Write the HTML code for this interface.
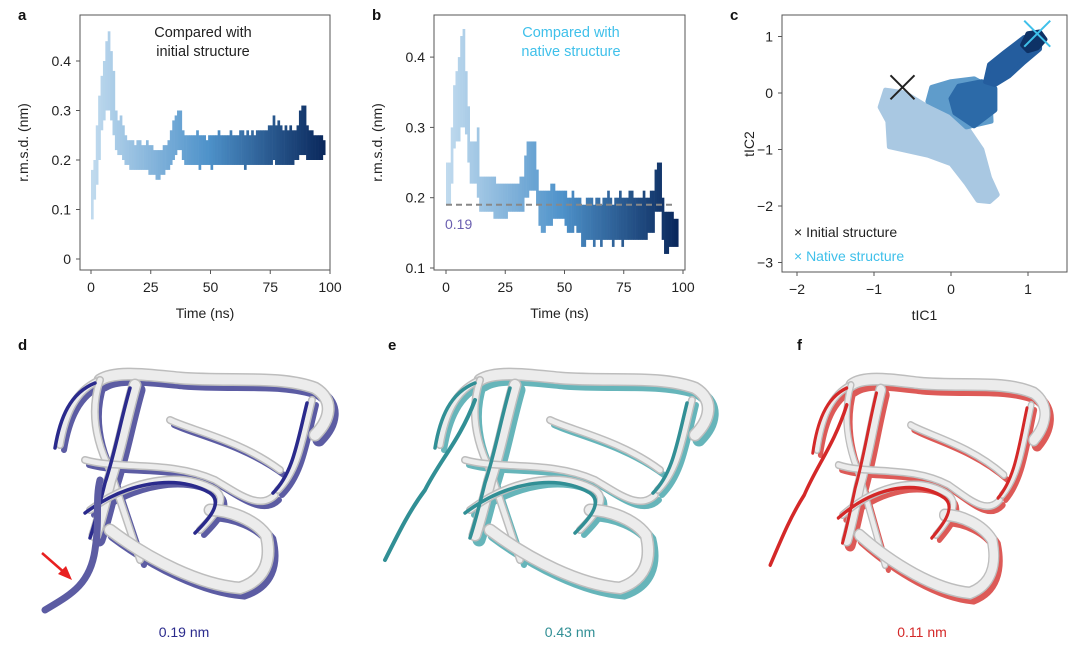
<!DOCTYPE html>
<html><head><meta charset="utf-8"><style>
body{margin:0;background:#fff;}
svg{display:block;font-family:"Liberation Sans",sans-serif;}
</style></head><body>
<svg id="fig" width="1080" height="653" viewBox="0 0 1080 653">
<rect width="1080" height="653" fill="#fff"/>
<g id="pa"></g>
<g id="pb"></g>
<g id="pc"></g>
<g id="prot"></g>
</svg>
<script>
// ---- Panel a data: per-ns r.m.s.d. band vs initial structure ----
const timeNs = Array.from({length:98},(_, i)=>i);
const aLo = [.08,.12,.15,.20,.26,.28,.30,.30,.28,.25,.22,.21,.21,.20,.19,.19,.18,.18,.18,.18,.18,.18,.18,.18,.17,.17,.17,.16,.16,.17,.17,.18,.18,.19,.20,.21,.22,.22,.20,.19,
.19,.19,.19,.19,.19,.18,.19,.19,.19,.19,.18,.19,.19,.19,.19,.19,.19,.19,.19,.19,.19,.19,.19,.19,.18,.19,.19,.19,.19,.19,.19,.19,.19,.19,.19,.19,.20,.19,.19,.19,.19,.19,.19,.19,.19,.20,.20,.21,.21,.21,.20,.20,.20,.20,.20,.20,.20,.21];
const aHi = [.18,.20,.27,.33,.37,.40,.44,.46,.42,.38,.30,.28,.29,.27,.25,.24,.24,.24,.23,.24,.24,.23,.23,.24,.23,.23,.22,.22,.22,.22,.23,.23,.24,.26,.28,.29,.30,.30,.26,.25,
.25,.25,.25,.25,.26,.25,.25,.25,.24,.25,.25,.25,.25,.26,.25,.25,.25,.25,.26,.25,.25,.25,.26,.26,.25,.26,.25,.26,.25,.26,.26,.26,.26,.26,.27,.27,.29,.27,.28,.27,.26,.27,.26,.27,.26,.26,.27,.30,.31,.31,.27,.26,.26,.25,.25,.25,.25,.24];
const aYTicks = [0,0.1,0.2,0.3,0.4];
const aYLabels = ["0","0.1","0.2","0.3","0.4"];
const xTicks = [0,25,50,75,100];
// ---- Panel b data: vs native ----
const bLo = [.19,.19,.22,.27,.28,.28,.30,.30,.29,.25,.22,.22,.22,.20,.18,.18,.18,.18,.18,.18,.17,.17,.17,.17,.17,.17,.18,.18,.18,.18,.18,.18,.18,.20,.20,.21,.21,.21,.19,.16,
.15,.15,.16,.16,.16,.17,.17,.17,.17,.17,.16,.15,.15,.15,.16,.15,.15,.13,.13,.14,.14,.14,.13,.14,.14,.13,.14,.14,.14,.14,.13,.14,.14,.14,.13,.14,.14,.14,.14,.14,.14,.14,.14,.14,.14,.15,.15,.15,.18,.18,.18,.14,.12,.12,.13,.13,.13,.13];
const bHi = [.25,.25,.30,.36,.38,.40,.43,.44,.38,.33,.28,.28,.28,.30,.23,.23,.23,.23,.23,.23,.23,.22,.22,.22,.22,.22,.22,.22,.22,.22,.22,.23,.23,.26,.28,.28,.28,.28,.24,.21,
.21,.21,.21,.21,.22,.22,.21,.21,.21,.21,.21,.20,.20,.21,.20,.20,.20,.19,.19,.20,.20,.20,.19,.20,.20,.19,.20,.20,.21,.20,.19,.20,.20,.21,.20,.20,.20,.21,.21,.20,.20,.20,.20,.21,.20,.20,.21,.21,.24,.25,.25,.20,.18,.18,.18,.18,.17,.17];
const bYTicks = [0.1,0.2,0.3,0.4];
const bYLabels = ["0.1","0.2","0.3","0.4"];
const bRef = 0.19;
// ---- Panel c data: tIC clusters (polygons in tIC units) ----
const cLight = [[-0.85,0.05],[-0.6,0.0],[-0.3,-0.25],[0.0,-0.4],[0.2,-0.6],[0.4,-1.0],[0.5,-1.5],[0.6,-1.8],[0.5,-1.92],[0.35,-1.9],[0.2,-1.6],[0.0,-1.25],[-0.3,-1.1],[-0.8,-0.95],[-0.82,-0.5],[-0.92,-0.25]];
const cMid = [[-0.25,0.1],[0.0,0.2],[0.3,0.25],[0.5,0.1],[0.52,-0.5],[0.2,-0.6],[0.0,-0.35],[-0.3,-0.15]];
const cDark = [[0.1,0.12],[0.4,0.2],[0.57,0.08],[0.57,-0.3],[0.3,-0.58],[0.05,-0.35],[0.0,-0.1]];
const cArm = [[0.45,0.2],[0.5,0.5],[0.7,0.72],[0.95,0.98],[1.15,1.02],[1.15,0.78],[0.95,0.55],[0.75,0.3],[0.57,0.15]];
const cDarkest = [[0.93,0.85],[1.0,1.05],[1.15,1.08],[1.22,0.95],[1.12,0.8],[1.0,0.75]];
const cInitial = [-0.63,0.1];
const cNative = [1.12,1.05];
const cXTicks=[-2,-1,0,1], cXLabels=["\u22122","\u22121","0","1"];
const cYTicks=[-3,-2,-1,0,1], cYLabels=["\u22123","\u22122","\u22121","0","1"];

const NS='http://www.w3.org/2000/svg';
function mk(parent,tag,attrs,text){const e=document.createElementNS(NS,tag);for(const k in attrs)e.setAttribute(k,attrs[k]);if(text!==undefined)e.textContent=text;parent.appendChild(e);return e;}
function lerpCol(t){const s=[[192,218,238],[78,146,202],[10,40,92]];let a,b,u;if(t<0.5){a=s[0];b=s[1];u=t/0.5;}else{a=s[1];b=s[2];u=(t-0.5)/0.5;}
  const c=a.map((v,i)=>Math.round(v+(b[i]-v)*u));return `rgb(${c[0]},${c[1]},${c[2]})`;}

function rmsdPanel(g,box,xs,ys,lo,hi,yt,yl,letter,title,titleCol,titleX){
  const X=v=>xs[0]+(v-xs[1])*xs[2], Y=v=>ys[0]-(v-ys[1])*ys[2];
  let e=mk(g,'text',{x:box[0]-62,y:box[1]+5,'font-size':15,'font-weight':'bold',fill:'#111'},letter);
  
  const marks=mk(g,'g',{});
  lo.forEach((l,i)=>{const r=mk(marks,'rect',{x:X(timeNs[i]),y:Y(hi[i]),width:xs[2]+0.3,height:Math.max(1,Y(l)-Y(hi[i])),fill:lerpCol(i/97)});
    });
  e=mk(g,'rect',{x:box[0],y:box[1],width:box[2]-box[0],height:box[3]-box[1],fill:'none',stroke:'#555','stroke-width':1});
  
  yt.forEach((v,i)=>{mk(g,'line',{x1:box[0]-4,x2:box[0],y1:Y(v),y2:Y(v),stroke:'#555'});
    e=mk(g,'text',{x:box[0]-9,y:Y(v)+5,'font-size':14,'text-anchor':'end',fill:'#222'},yl[i]);});
  xTicks.forEach(v=>{mk(g,'line',{x1:X(v),x2:X(v),y1:box[3],y2:box[3]+4,stroke:'#555'});
    e=mk(g,'text',{x:X(v),y:box[3]+22,'font-size':14,'text-anchor':'middle',fill:'#222'},String(v));});
  e=mk(g,'text',{x:(box[0]+box[2])/2,y:box[3]+48,'font-size':14,'text-anchor':'middle',fill:'#222'},'Time (ns)');
  const yc=(box[1]+box[3])/2;
  e=mk(g,'text',{x:0,y:0,'font-size':14,'text-anchor':'middle',fill:'#222',transform:`translate(${box[0]-52},${yc}) rotate(-90)`},'r.m.s.d. (nm)');
  title.forEach((t,i)=>{e=mk(g,'text',{x:titleX,y:box[1]+22+i*19,'font-size':14.5,'text-anchor':'middle',fill:titleCol},t);});
  return {X,Y};
}
rmsdPanel(document.getElementById('pa'),[80,15,330,270],[91,0,2.39],[259,0,495],aLo,aHi,aYTicks,aYLabels,'a',['Compared with','initial structure'],'#222',203);
const sb=rmsdPanel(document.getElementById('pb'),[434,15,685,270],[446,0,2.37],[268,0.1,703],bLo,bHi,bYTicks,bYLabels,'b',['Compared with','native structure'],'#3fc0ea',571);
{const g=document.getElementById('pb');
 let e=mk(g,'line',{x1:sb.X(0),x2:sb.X(97),y1:sb.Y(bRef),y2:sb.Y(bRef),stroke:'#888','stroke-width':2,'stroke-dasharray':'6,4'});
 
 e=mk(g,'text',{x:445,y:229,'font-size':14,fill:'#6a5fb0'},'0.19');}

// Panel c
{const g=document.getElementById('pc');const box=[782,15,1067,272];
 const X=v=>951+v*77, Y=v=>93-v*56.5;
 let e=mk(g,'text',{x:730,y:20,'font-size':15,'font-weight':'bold',fill:'#111'},'c');
 [[cLight,'#a9c8e2'],[cMid,'#5f9ccb'],[cDark,'#2c6aa8'],[cArm,'#245d9e'],[cDarkest,'#0e3266']].forEach(([poly,col])=>{
   e=mk(g,'polygon',{points:poly.map(p=>X(p[0])+','+Y(p[1])).join(' '),fill:col,stroke:col,'stroke-width':5,'stroke-linejoin':'round'});
   });
 const cross=(p,col,s,name)=>{const gg=mk(g,'g',{stroke:col,'stroke-width':2});
   mk(gg,'line',{x1:X(p[0])-s,y1:Y(p[1])-s,x2:X(p[0])+s,y2:Y(p[1])+s});mk(gg,'line',{x1:X(p[0])-s,y1:Y(p[1])+s,x2:X(p[0])+s,y2:Y(p[1])-s});};
 cross(cInitial,'#222',12,'initial-structure-marker');cross(cNative,'#3fc0ea',13,'native-structure-marker');
 e=mk(g,'rect',{x:box[0],y:box[1],width:box[2]-box[0],height:box[3]-box[1],fill:'none',stroke:'#555'});
 cXTicks.forEach((v,i)=>{mk(g,'line',{x1:X(v),x2:X(v),y1:box[3],y2:box[3]+4,stroke:'#555'});
   e=mk(g,'text',{x:X(v),y:box[3]+22,'font-size':14,'text-anchor':'middle',fill:'#222'},cXLabels[i]);});
 cYTicks.forEach((v,i)=>{mk(g,'line',{x1:box[0]-4,x2:box[0],y1:Y(v),y2:Y(v),stroke:'#555'});
   e=mk(g,'text',{x:box[0]-9,y:Y(v)+5,'font-size':14,'text-anchor':'end',fill:'#222'},cYLabels[i]);});
 e=mk(g,'text',{x:(box[0]+box[2])/2,y:box[3]+48,'font-size':14,'text-anchor':'middle',fill:'#222'},'tIC1');
 e=mk(g,'text',{x:0,y:0,'font-size':14,'text-anchor':'middle',fill:'#222',transform:`translate(754,144) rotate(-90)`},'tIC2');
 e=mk(g,'text',{x:794,y:237,'font-size':14,fill:'#222'},'\u00d7 Initial structure');
 e=mk(g,'text',{x:794,y:261,'font-size':14,fill:'#3fc0ea'},'\u00d7 Native structure');
}

// Protein cartoons
const ribbons=["M60,20 C75,10 110,15 140,18 C190,22 240,15 275,28 C295,40 290,60 275,75",
"M20,85 C25,55 35,30 60,20","M60,20 C50,50 55,80 70,110 C80,140 90,170 100,200",
"M95,25 C85,60 80,90 70,120 C65,140 60,160 55,175",
"M45,100 C80,110 130,100 175,120 C200,135 220,150 235,135",
"M50,150 C90,120 140,110 175,130 C190,140 170,160 160,170",
"M70,170 C110,200 160,225 200,228 C225,220 232,200 226,175 C215,160 190,150 170,150",
"M272,40 C262,80 258,110 238,130","M130,60 C150,70 200,80 240,110"];
const tail="M5,250 C30,235 50,225 55,190 C60,160 55,140 60,120";
{const g=document.getElementById('prot');
 const panels=[{ox:40,oy:360,sc:1,col:'#5c5ca3',dark:'#2a2a8c',letter:'d',lx:18,val:'0.19 nm',vx:184,tail:true},
  {ox:420,oy:360,sc:1,col:'#66b5ba',dark:'#318f95',letter:'e',lx:388,val:'0.43 nm',vx:570,tail:false},
  {ox:800,oy:365,sc:0.85,col:'#dd5a57',dark:'#d42828',letter:'f',lx:797,val:'0.11 nm',vx:922,tail:false}];
 panels.forEach(p=>{
  const gg=mk(g,'g',{transform:`translate(${p.ox},${p.oy}) scale(${p.sc},1)`,fill:'none','stroke-linecap':'round'});
  
  ribbons.forEach((d,i)=>{mk(gg,'path',{d,stroke:p.col,'stroke-width':i%3===0?13:6,transform:'translate(4,5)'});});
  ribbons.forEach((d,i)=>{mk(gg,'path',{d,stroke:'#bdbdbd','stroke-width':i%3===0?13:8});mk(gg,'path',{d,stroke:'#ececec','stroke-width':i%3===0?10:5});});
  ribbons.forEach((d,i)=>{if(i%2)mk(gg,'path',{d,stroke:p.dark,'stroke-width':3.5,transform:'translate(-5,3)'});});
  if(p.tail)mk(gg,'path',{d:tail,stroke:p.col,'stroke-width':7});
  else mk(gg,'path',{d:'M-35,200 C-20,170 -10,150 5,130 C20,100 40,80 55,40',stroke:p.dark,'stroke-width':4});
  let e=mk(g,'text',{x:p.lx,y:350,'font-size':15,'font-weight':'bold',fill:'#111'},p.letter);
  e=mk(g,'text',{x:p.vx,y:637,'font-size':14,'text-anchor':'middle',fill:p.dark},p.val);
 });
 const ar=mk(g,'g',{stroke:'#e82020','stroke-width':2.5,fill:'#e82020'});
 mk(ar,'line',{x1:42,y1:553,x2:66,y2:574});mk(ar,'polygon',{points:'72,580 58,574 66,566',stroke:'none'});
}
</script>
</body></html>
